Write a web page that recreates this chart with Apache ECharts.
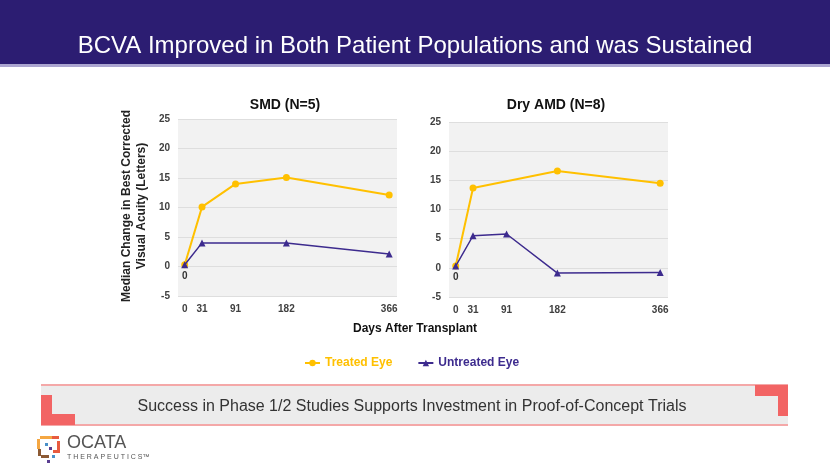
<!DOCTYPE html>
<html><head><meta charset="utf-8">
<script src="https://cdn.jsdelivr.net/npm/echarts@6/dist/echarts.min.js"></script>
<style>html,body{margin:0;padding:0;background:#fff}#c{width:830px;height:467px}</style>
</head><body><div id="c"></div><script>
// ---- data ----
const dayTicks = [0, 31, 91, 182, 366];
const yTicks = [-5, 0, 5, 10, 15, 20, 25];
const smdTreated = [[0, 0.3], [31, 10.1], [91, 14.0], [182, 15.1], [366, 12.1]];
const smdUntreated = [[0, 0.3], [31, 4.0], [182, 4.0], [366, 2.1]];
const amdTreated = [[0, 0.3], [31, 13.7], [182, 16.6], [366, 14.5]];
const amdUntreated = [[0, 0.3], [31, 5.5], [91, 5.8], [182, -0.9], [366, -0.8]];
const seriesNames = ['Treated Eye', 'Untreated Eye'];
const panelTitles = ['SMD (N=5)', 'Dry AMD (N=8)'];

const TREATED = '#FFC000', UNTREATED = '#3D2B8E';
const sans = "'Liberation Sans', Arial, sans-serif";

function withZeroLabel(arr) {
  return arr.map((p, i) => i === 0 ? { value: p, label: { show: true, position: 'bottom', distance: 3, formatter: '0', color: '#333', fontWeight: 'bold', fontSize: 10, fontFamily: sans } } : p);
}

const grids = [
  { left: 178, top: 119, width: 219, height: 177 },
  { left: 449, top: 122, width: 219, height: 175 }
].map(g => Object.assign(g, { show: true, backgroundColor: '#f2f2f2', borderWidth: 0 }));

const xAxes = [0, 1].map(i => ({
  type: 'value', gridIndex: i, min: -12, max: 380,
  axisLine: { show: false }, axisTick: { show: false }, splitLine: { show: false },
  axisLabel: { customValues: dayTicks, margin: 8, color: '#404040', fontWeight: 'bold', fontSize: 10, fontFamily: sans }
}));
const yAxes = [0, 1].map(i => ({
  type: 'value', gridIndex: i, min: yTicks[0], max: yTicks[yTicks.length - 1], interval: 5,
  axisLine: { show: false }, axisTick: { show: false },
  splitLine: { show: true, lineStyle: { color: '#dedede', width: 1 } },
  axisLabel: { margin: 8, color: '#404040', fontWeight: 'bold', fontSize: 10, fontFamily: sans }
}));

function mk(name, data, idx, treated) {
  return {
    name, type: 'line', xAxisIndex: idx, yAxisIndex: idx, data,
    color: treated ? TREATED : UNTREATED,
    symbol: treated ? 'circle' : 'triangle', symbolSize: 7,
    lineStyle: { width: treated ? 2 : 1.5 },
    z: treated ? 2 : 3, animation: false
  };
}

const graphic = [
  { type: 'rect', shape: { x: 0, y: 0, width: 830, height: 64 }, style: { fill: '#2C1D72' } },
  { type: 'rect', shape: { x: 0, y: 64, width: 830, height: 3 }, style: { fill: '#ABA5D0' } },
  { type: 'text', x: 415, y: 46, style: { text: 'BCVA Improved in Both Patient Populations and was Sustained', fill: '#fff', fontSize: 24, fontFamily: sans, align: 'center', verticalAlign: 'middle' } },
  { type: 'text', x: 285, y: 105, style: { text: panelTitles[0], fill: '#111', fontSize: 14, fontWeight: 'bold', fontFamily: sans, align: 'center', verticalAlign: 'middle' } },
  { type: 'text', x: 556, y: 105, style: { text: panelTitles[1], fill: '#111', fontSize: 14, fontWeight: 'bold', fontFamily: sans, align: 'center', verticalAlign: 'middle' } },
  { type: 'text', x: 134.5, y: 206, rotation: Math.PI / 2, style: { text: 'Median Change in Best Corrected\nVisual Acuity (Letters)', fill: '#222', fontSize: 12, fontWeight: 'bold', fontFamily: sans, lineHeight: 15, align: 'center', verticalAlign: 'middle' } },
  { type: 'text', x: 415, y: 329, style: { text: 'Days After Transplant', fill: '#111', fontSize: 12, fontWeight: 'bold', fontFamily: sans, align: 'center', verticalAlign: 'middle' } },
  // banner
  { type: 'rect', shape: { x: 41, y: 385, width: 747, height: 40 }, style: { fill: '#ececec' } },
  { type: 'rect', shape: { x: 41, y: 384, width: 747, height: 2 }, style: { fill: '#F4A8A8' } },
  { type: 'rect', shape: { x: 41, y: 424, width: 747, height: 2 }, style: { fill: '#F4A8A8' } },
  { type: 'rect', shape: { x: 41, y: 395, width: 11, height: 30 }, style: { fill: '#F26464' } },
  { type: 'rect', shape: { x: 41, y: 414, width: 34, height: 11 }, style: { fill: '#F26464' } },
  { type: 'rect', shape: { x: 755, y: 385, width: 33, height: 11 }, style: { fill: '#F26464' } },
  { type: 'rect', shape: { x: 778, y: 385, width: 10, height: 31 }, style: { fill: '#F26464' } },
  { type: 'text', x: 412, y: 407, style: { text: 'Success in Phase 1/2 Studies Supports Investment in Proof-of-Concept Trials', fill: '#333', fontSize: 16, fontFamily: sans, align: 'center', verticalAlign: 'middle' } },
  // logo
  { type: 'rect', shape: { x: 40, y: 436, width: 12, height: 3 }, style: { fill: '#F5A742' } },
  { type: 'rect', shape: { x: 37, y: 439, width: 3, height: 10 }, style: { fill: '#F5A742' } },
  { type: 'rect', shape: { x: 38, y: 449, width: 3, height: 7 }, style: { fill: '#8C5A34' } },
  { type: 'rect', shape: { x: 41, y: 455, width: 8, height: 3 }, style: { fill: '#8C5A34' } },
  { type: 'rect', shape: { x: 52, y: 436, width: 7, height: 3 }, style: { fill: '#E85B3F' } },
  { type: 'rect', shape: { x: 57, y: 441, width: 3, height: 9 }, style: { fill: '#E85B3F' } },
  { type: 'rect', shape: { x: 53, y: 450, width: 7, height: 3 }, style: { fill: '#E85B3F' } },
  { type: 'rect', shape: { x: 45, y: 443, width: 3, height: 3 }, style: { fill: '#4A90C8' } },
  { type: 'rect', shape: { x: 49, y: 447, width: 3, height: 3 }, style: { fill: '#5A3D91' } },
  { type: 'rect', shape: { x: 52, y: 455, width: 3, height: 3 }, style: { fill: '#4A90C8' } },
  { type: 'rect', shape: { x: 47, y: 460, width: 3, height: 3 }, style: { fill: '#5A3D91' } },
  { type: 'text', x: 67, y: 443, style: { text: 'OCATA', fill: '#555', fontSize: 18, fontFamily: sans, align: 'left', verticalAlign: 'middle' } },
  { type: 'text', x: 67, y: 457, style: { text: 'T H E R A P E U T I C S™', fill: '#555', fontSize: 7, fontFamily: sans, align: 'left', verticalAlign: 'middle' } }
];

const chart = echarts.init(document.getElementById('c'), null, { renderer: 'canvas' });
chart.setOption({
  animation: false,
  backgroundColor: '#fff',
  grid: grids, xAxis: xAxes, yAxis: yAxes,
  legend: {
    left: 299, top: 352, itemWidth: 15, itemHeight: 8, itemGap: 25,
    textStyle: { fontWeight: 'bold', fontSize: 12, fontFamily: sans },
    data: [{ name: seriesNames[0], textStyle: { color: TREATED } }, { name: seriesNames[1], textStyle: { color: UNTREATED } }]
  },
  graphic,
  series: [
    mk(seriesNames[0], smdTreated, 0, true),
    mk(seriesNames[1], withZeroLabel(smdUntreated), 0, false),
    mk(seriesNames[0], amdTreated, 1, true),
    mk(seriesNames[1], withZeroLabel(amdUntreated), 1, false)
  ]
});
</script></body></html>
